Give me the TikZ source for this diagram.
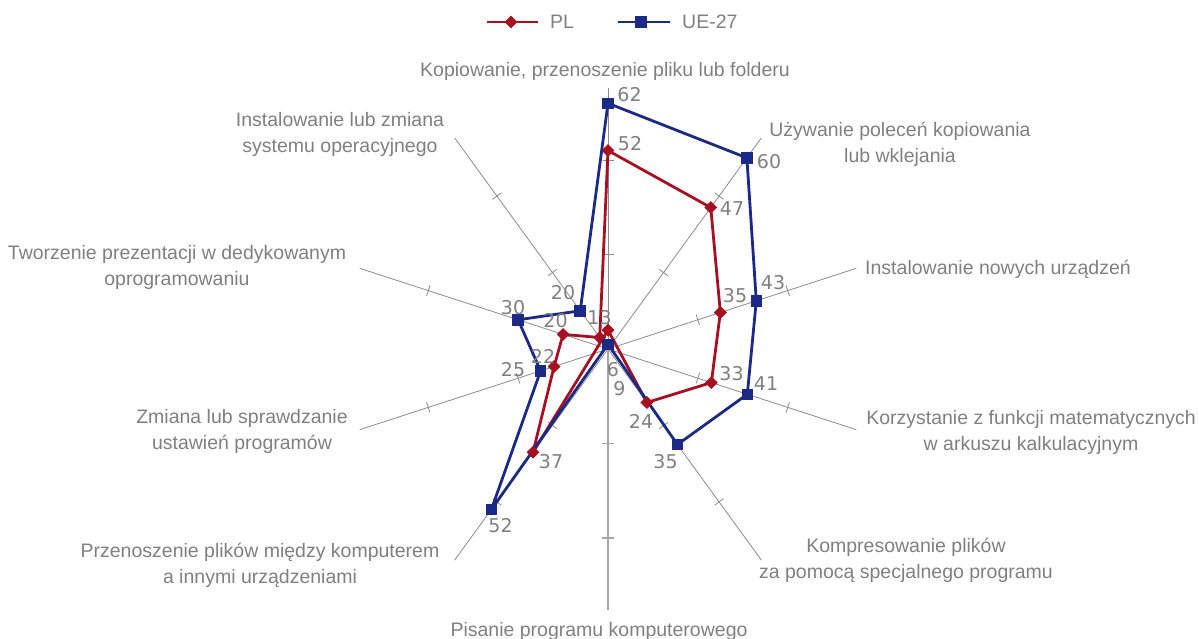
\documentclass[tikz,border=0pt]{standalone}
\usepackage{fontspec}
\setmainfont{Liberation Sans}
\newfontfamily\numfont{DejaVu Sans}
\usetikzlibrary{calc,shapes.geometric}
\definecolor{plred}{RGB}{166,16,32}
\definecolor{ueblue}{RGB}{27,42,135}
\definecolor{txtgray}{RGB}{128,128,128}
\definecolor{axgray}{RGB}{140,140,140}
\definecolor{vaxgray}{RGB}{166,166,166}
\begin{document}
\begin{tikzpicture}[x=1pt,y=1pt,
  lbl/.style={font=\fontsize{19.5}{26}\selectfont, text=txtgray, inner sep=0pt, align=center},
  num/.style={font=\numfont\fontsize{19}{23}\selectfont, text=txtgray, inner sep=0pt},
  axisline/.style={draw=axgray, line width=0.8pt},
  valueaxis/.style={draw=vaxgray, line width=1.6pt},
  plline/.style={draw=plred, line width=2.8pt, line join=round},
  ueline/.style={draw=ueblue, line width=2.8pt, line join=round},
  plmark/.style={diamond, fill=plred, draw=none, minimum size=13pt, inner sep=0pt},
  uemark/.style={rectangle, fill=ueblue, draw=none, minimum size=11.5pt, inner sep=0pt}
]
\useasboundingbox (0,0) rectangle (1199,638);
\coordinate (C) at (608,289);

% axes with tick marks
\foreach \i in {1,...,10} {
  \pgfmathsetmacro\ang{90-36*(\i-1)}
  \pgfmathsetmacro\angp{\ang+90}
  \pgfmathsetmacro\angm{\ang-90}
  \coordinate (ax\i) at ($(C)+(\ang:261)$);
  \coordinate (ta\i) at ($(C)+(\ang:94.5)+(\angp:5.5)$);
  \coordinate (tb\i) at ($(C)+(\ang:94.5)+(\angm:5.5)$);
  \coordinate (tc\i) at ($(C)+(\ang:189)+(\angp:5.5)$);
  \coordinate (td\i) at ($(C)+(\ang:189)+(\angm:5.5)$);
  \draw[axisline] (C) -- (ax\i);
  \draw[axisline] (ta\i) -- (tb\i);
  \draw[axisline] (tc\i) -- (td\i);
}
% value axis (bottom)
\draw[valueaxis] (C) -- (ax6);
\coordinate (vt1a) at ($(C)+(-6,-94.5)$);
\coordinate (vt1b) at ($(C)+(6,-94.5)$);
\coordinate (vt2a) at ($(C)+(-6,-189)$);
\coordinate (vt2b) at ($(C)+(6,-189)$);
\draw[valueaxis] (vt1a) -- (vt1b);
\draw[valueaxis] (vt2a) -- (vt2b);

% data points
\foreach \v [count=\i] in {52,47,35,33,24,6,37,22,20,13} {
  \pgfmathsetmacro\ang{90-36*(\i-1)}
  \pgfmathsetmacro\rr{4.725*(\v-10)}
  \coordinate (pl\i) at ($(C)+(\ang:\rr)$);
}
\foreach \v [count=\i] in {62,60,43,41,35,9,52,25,30,20} {
  \pgfmathsetmacro\ang{90-36*(\i-1)}
  \pgfmathsetmacro\rr{4.725*(\v-10)}
  \coordinate (ue\i) at ($(C)+(\ang:\rr)$);
}

\draw[plline] (pl1) -- (pl2) -- (pl3) -- (pl4) -- (pl5) -- (pl6) -- (pl7) -- (pl8) -- (pl9) -- (pl10) -- cycle;
\draw[ueline] (ue1) -- (ue2) -- (ue3) -- (ue4) -- (ue5) -- (ue6) -- (ue7) -- (ue8) -- (ue9) -- (ue10) -- cycle;
\foreach \i in {1,...,10} {
  \node[plmark] (plm\i) at (pl\i) {};
}
\foreach \i in {1,...,10} {
  \node[uemark] (uem\i) at (ue\i) {};
}

% data labels
\node[num] (n-ue1) at (629.5,543) {62};
\node[num] (n-pl1) at (630,494.5) {52};
\node[num] (n-ue2) at (769,476) {60};
\node[num] (n-pl2) at (732,429) {47};
\node[num] (n-ue3) at (773,355) {43};
\node[num] (n-pl3) at (735,342) {35};
\node[num] (n-pl4) at (731.5,264) {33};
\node[num] (n-ue4) at (766,254.5) {41};
\node[num] (n-pl5) at (641,216.5) {24};
\node[num] (n-ue5) at (665.5,176.5) {35};
\node[num] (n-pl6) at (613,268) {6};
\node[num] (n-ue6) at (619.5,249.5) {9};
\node[num] (n-pl7) at (551,176.5) {37};
\node[num] (n-ue7) at (500.5,112) {52};
\node[num] (n-pl8) at (543,282) {22};
\node[num] (n-ue8) at (513,268.5) {25};
\node[num] (n-pl9) at (555.5,317.5) {20};
\node[num] (n-ue9) at (513,330.5) {30};
\node[num] (n-ue10) at (563,345) {20};
\node[num] (n-pl10) at (599.5,320) {13};

% category labels
\node[lbl, anchor=base] (c1) at (605,561) {Kopiowanie, przenoszenie pliku lub folderu};
\node[lbl] (c2) at (900,493.5) {Używanie poleceń kopiowania\\lub wklejania};
\node[lbl, anchor=base] (c3) at (998,363) {Instalowanie nowych urządzeń};
\node[lbl] (c4) at (1031,205.5) {Korzystanie z funkcji matematycznych\\w arkuszu kalkulacyjnym};
\node[lbl] (c5) at (906,77.5) {Kompresowanie plików\\za pomocą specjalnego programu};
\node[lbl, anchor=base] (c6) at (599,2) {Pisanie programu komputerowego};
\node[lbl] (c7) at (260,73) {Przenoszenie plików między komputerem\\a innymi urządzeniami};
\node[lbl] (c8) at (242,207) {Zmiana lub sprawdzanie\\ustawień programów};
\node[lbl] (c9) at (177,370.5) {Tworzenie prezentacji w dedykowanym\\oprogramowaniu};
\node[lbl] (c10) at (340,504) {Instalowanie lub zmiana\\systemu operacyjnego};

% legend
\coordinate (lgpla) at (487,616);
\coordinate (lgplb) at (538,616);
\draw[plline] (lgpla) -- (lgplb);
\node[plmark] (lgplm) at (511,616) {};
\node[lbl, anchor=base west] (lgplt) at (550,609) {PL};
\coordinate (lguea) at (618,616);
\coordinate (lgueb) at (670,616);
\draw[ueline] (lguea) -- (lgueb);
\node[uemark] (lguem) at (641,616) {};
\node[lbl, anchor=base west] (lguet) at (682,609) {UE-27};
\end{tikzpicture}
\end{document}
